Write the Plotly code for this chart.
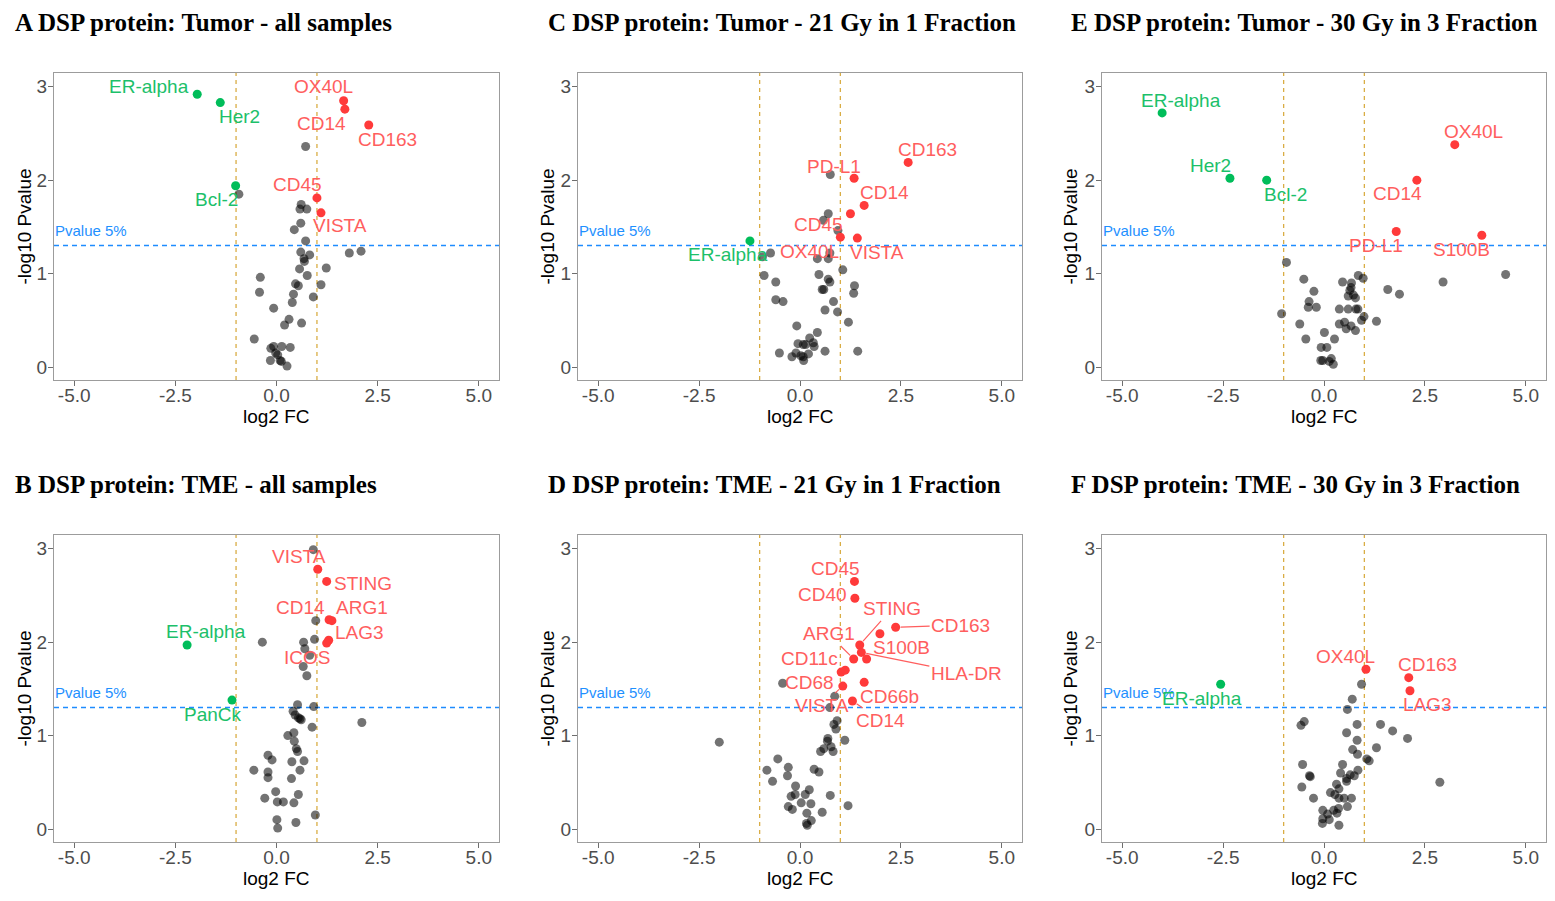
import plotly.graph_objects as go
from plotly.subplots import make_subplots

# ---- data: log2 FC (x) and -log10 Pvalue (y) ----

# A: Tumor - all samples
a_grey_x = [0.72, -0.93, 0.61, 0.58, 0.75, 0.60, 0.44, 0.72, 0.60, 0.82, 0.68, 0.69, 1.80, 2.09,
            1.23, 0.57, 0.76, -0.40, -0.42, 0.47, 0.54, 1.10, 0.42, 0.91, 0.39, -0.07, 0.31, 0.20,
            0.62, -0.55, -0.07, -0.14, 0.13, 0.34, -0.02, 0.03, -0.15, 0.09, 0.12, 0.26]
a_grey_y = [2.36, 1.85, 1.74, 1.69, 1.69, 1.54, 1.47, 1.35, 1.23, 1.20, 1.16, 1.13, 1.22, 1.24,
            1.06, 1.05, 0.98, 0.96, 0.80, 0.89, 0.87, 0.88, 0.78, 0.75, 0.69, 0.63, 0.51, 0.45,
            0.47, 0.30, 0.22, 0.20, 0.22, 0.21, 0.15, 0.13, 0.07, 0.07, 0.06, 0.01]
a_down_names = ["ER-alpha", "Her2", "Bcl-2"]
a_down_x = [-1.96, -1.39, -1.01]
a_down_y = [2.92, 2.83, 1.94]
a_up_names = ["OX40L", "CD14", "CD163", "CD45", "VISTA"]
a_up_x = [1.66, 1.69, 2.28, 1.00, 1.10]
a_up_y = [2.85, 2.76, 2.59, 1.81, 1.65]

# C: Tumor - 21 Gy in 1 Fraction
c_grey_x = [0.75, 0.70, 0.58, 0.94, -0.73, -0.93, 0.43, 0.70, 0.74, 1.06, 0.47, -0.89, 0.70, 0.74,
            -0.60, 1.35, 1.33, 0.55, 0.59, -0.60, -0.42, 0.83, 0.62, 0.93, 1.20, -0.08, 0.43, 0.24,
            -0.05, 0.08, 0.14, 0.33, 0.35, -0.51, 0.62, 1.43, -0.10, 0.21, -0.20, 0.02, 0.08, 0.09]
c_grey_y = [2.06, 1.64, 1.57, 1.46, 1.22, 1.18, 1.16, 1.16, 1.22, 1.04, 0.99, 0.98, 0.94, 0.91,
            0.91, 0.87, 0.79, 0.83, 0.83, 0.72, 0.70, 0.70, 0.61, 0.59, 0.48, 0.44, 0.37, 0.31,
            0.25, 0.24, 0.24, 0.26, 0.22, 0.15, 0.17, 0.17, 0.15, 0.14, 0.11, 0.12, 0.11, 0.07]
c_down_names = ["ER-alpha"]
c_down_x = [-1.24]
c_down_y = [1.35]
c_up_names = ["CD163", "PD-L1", "CD14", "CD45", "OX40L", "VISTA"]
c_up_x = [2.68, 1.34, 1.59, 1.25, 1.00, 1.42]
c_up_y = [2.19, 2.02, 1.73, 1.64, 1.39, 1.38]

# E: Tumor - 30 Gy in 3 Fraction
e_grey_x = [-0.93, 4.50, 2.95, -0.50, 0.46, 0.85, 0.97, 0.68, 0.67, 0.64, 1.58, 1.87, -0.25, -0.37,
            -0.39, -0.19, 0.60, 0.73, 0.78, 0.38, 0.60, 0.79, 0.84, -1.05, 0.99, 0.93, 1.30, -0.60,
            0.51, 0.38, 0.67, 0.55, 0.78, 0.01, -0.45, 0.26, -0.07, 0.07, -0.08, -0.03, 0.13, 0.18,
            0.23]
e_grey_y = [1.12, 0.99, 0.91, 0.94, 0.91, 0.98, 0.95, 0.90, 0.85, 0.82, 0.83, 0.78, 0.81, 0.70,
            0.64, 0.64, 0.76, 0.77, 0.74, 0.62, 0.62, 0.62, 0.62, 0.57, 0.54, 0.50, 0.49, 0.46,
            0.48, 0.46, 0.44, 0.41, 0.39, 0.37, 0.30, 0.30, 0.21, 0.21, 0.07, 0.07, 0.06, 0.09,
            0.03]
e_down_names = ["ER-alpha", "Her2", "Bcl-2"]
e_down_x = [-4.01, -2.33, -1.42]
e_down_y = [2.72, 2.02, 2.00]
e_up_names = ["OX40L", "CD14", "PD-L1", "S100B"]
e_up_x = [3.24, 2.30, 1.79, 3.91]
e_up_y = [2.38, 2.00, 1.45, 1.41]

# B: TME - all samples
b_grey_x = [0.91, 0.97, 0.94, -0.35, 0.67, 0.70, 0.82, 0.66, 0.75, 0.52, 0.92, 0.41, 0.46, 0.54,
            0.58, 0.61, 2.11, 0.88, 0.43, 0.28, 0.44, 0.49, 0.52, -0.21, -0.11, 0.38, 0.68, -0.56,
            -0.21, -0.21, 0.58, 0.37, -0.02, -0.29, 0.02, 0.17, 0.43, 0.54, 0.96, 0.01, 0.48, 0.03]
b_grey_y = [2.99, 2.23, 2.03, 2.00, 2.00, 1.93, 1.86, 1.74, 1.64, 1.33, 1.31, 1.26, 1.22, 1.19,
            1.18, 1.17, 1.14, 1.09, 1.03, 1.00, 0.94, 0.86, 0.83, 0.79, 0.74, 0.72, 0.73, 0.63,
            0.61, 0.55, 0.63, 0.54, 0.40, 0.33, 0.29, 0.29, 0.28, 0.37, 0.15, 0.10, 0.07, 0.01]
b_down_names = ["ER-alpha", "PanCk"]
b_down_x = [-2.21, -1.10]
b_down_y = [1.97, 1.38]
b_up_names = ["VISTA", "STING", "CD14", "ARG1", "LAG3", "ICOS"]
b_up_x = [1.02, 1.24, 1.30, 1.37, 1.29, 1.24]
b_up_y = [2.78, 2.65, 2.24, 2.23, 2.02, 1.99]

# D: TME - 21 Gy in 1 Fraction
d_grey_x = [-0.43, 0.86, 0.74, 0.92, 0.84, 0.89, -2.00, 1.11, 0.69, 0.68, 0.77, 0.59, 0.51, 0.82,
            -0.55, -0.82, -0.29, -0.31, -0.68, 0.35, 0.47, -0.11, 0.23, 0.13, -0.12, -0.22, 0.75,
            0.03, 0.27, -0.29, -0.19, 1.19, 0.17, 0.55, 0.28, 0.16, 0.18]
d_grey_y = [1.56, 1.42, 1.30, 1.16, 1.12, 1.07, 0.93, 0.95, 0.97, 0.94, 0.88, 0.86, 0.83, 0.83,
            0.75, 0.63, 0.66, 0.57, 0.51, 0.64, 0.61, 0.46, 0.42, 0.37, 0.37, 0.35, 0.36,
            0.28, 0.27, 0.24, 0.21, 0.25, 0.17, 0.18, 0.09, 0.06, 0.04]
d_down_names = []
d_down_x = []
d_down_y = []
d_up_names = ["CD45", "CD40", "STING", "CD163", "ARG1", "S100B", "CD11c", "CD68", "HLA-DR",
              "CD66b", "VISTA", "CD14", ""]
d_up_x = [1.35, 1.36, 1.48, 2.37, 1.33, 1.98, 1.02, 1.12, 1.52, 1.59, 1.06, 1.30, 1.65]
d_up_y = [2.65, 2.47, 1.97, 2.16, 1.82, 2.09, 1.68, 1.70, 1.89, 1.57, 1.53, 1.37, 1.82]

# F: TME - 30 Gy in 3 Fraction
f_grey_x = [0.93, 0.70, 0.58, -0.49, -0.57, 0.82, 1.40, 1.70, 0.56, 2.07, 0.82, 1.30, 0.71, 0.83,
            1.06, 1.12, 0.46, -0.53, 0.41, 0.84, 0.65, 0.75, -0.36, -0.34, 0.56, 0.56, 2.87, -0.55,
            0.31, 0.37, 0.16, 0.27, 0.37, 0.50, 0.68, -0.26, 0.58, -0.03, 0.09, 0.24, 0.36, 0.32,
            0.13, -0.03, -0.04, 0.37]
f_grey_y = [1.55, 1.39, 1.28, 1.15, 1.11, 1.12, 1.12, 1.05, 1.03, 0.97, 0.95, 0.87, 0.85, 0.80,
            0.75, 0.73, 0.69, 0.69, 0.60, 0.63, 0.58, 0.57, 0.57, 0.56, 0.54, 0.51, 0.50, 0.45,
            0.48, 0.43, 0.39, 0.37, 0.33, 0.33, 0.33, 0.33, 0.24, 0.20, 0.16, 0.20, 0.22, 0.17,
            0.10, 0.11, 0.06, 0.04]
f_down_names = ["ER-alpha"]
f_down_x = [-2.56]
f_down_y = [1.55]
f_up_names = ["OX40L", "CD163", "LAG3"]
f_up_x = [1.04, 2.10, 2.13]
f_up_y = [1.71, 1.62, 1.48]

panel_titles = {
    "A": "A DSP protein: Tumor - all samples",
    "B": "B DSP protein: TME - all samples",
    "C": "C DSP protein: Tumor - 21 Gy in 1 Fraction",
    "D": "D DSP protein: TME - 21 Gy in 1 Fraction",
    "E": "E DSP protein: Tumor - 30 Gy in 3 Fraction",
    "F": "F DSP protein: TME - 30 Gy in 3 Fraction",
}

x_ticks = [-5.0, -2.5, 0.0, 2.5, 5.0]
y_ticks = [0, 1, 2, 3]
fc_cut = 1.0
p_cut = 1.30103  # -log10(0.05)

panels = {
    "A": (a_grey_x, a_grey_y, a_down_names, a_down_x, a_down_y, a_up_names, a_up_x, a_up_y),
    "C": (c_grey_x, c_grey_y, c_down_names, c_down_x, c_down_y, c_up_names, c_up_x, c_up_y),
    "E": (e_grey_x, e_grey_y, e_down_names, e_down_x, e_down_y, e_up_names, e_up_x, e_up_y),
    "B": (b_grey_x, b_grey_y, b_down_names, b_down_x, b_down_y, b_up_names, b_up_x, b_up_y),
    "D": (d_grey_x, d_grey_y, d_down_names, d_down_x, d_down_y, d_up_names, d_up_x, d_up_y),
    "F": (f_grey_x, f_grey_y, f_down_names, f_down_x, f_down_y, f_up_names, f_up_x, f_up_y),
}

# label placement (pixel offsets from the point, like ggrepel put them): dx, dy(up), segment
label_pos = {
    "A": {"ER-alpha": (-48, 8, 0), "Her2": (19, -14, 0), "Bcl-2": (-19, -14, 0),
          "OX40L": (-20, 14, 0), "CD14": (-23, -14, 0), "CD163": (19, -14, 0),
          "CD45": (-19, 13, 0), "VISTA": (19, -13, 0)},
    "C": {"CD163": (19, 13, 0), "PD-L1": (-20, 12, 0), "CD14": (20, 13, 0),
          "CD45": (-32, -11, 0), "OX40L": (-31, -14, 0), "VISTA": (20, -14, 0),
          "ER-alpha": (-22, -14, 0)},
    "E": {"ER-alpha": (19, 12, 0), "Her2": (-19, 13, 0), "Bcl-2": (19, -14, 0),
          "OX40L": (19, 13, 0), "CD14": (-19, -13, 0), "PD-L1": (-20, -14, 0),
          "S100B": (-20, -14, 0)},
    "B": {"VISTA": (-19, 13, 0), "STING": (36, -2, 0), "CD14": (-29, 12, 0),
          "ARG1": (30, 13, 0), "LAG3": (31, 8, 0), "ICOS": (-20, -14, 0),
          "ER-alpha": (19, 13, 0), "PanCk": (-19, -14, 0)},
    "D": {"CD45": (-19, 13, 0), "CD40": (-32, 4, 0), "STING": (32, 36, 1),
          "CD163": (65, 2, 1), "ARG1": (-25, 25, 1), "S100B": (22, -14, 0),
          "CD11c": (-32, 14, 0), "CD68": (-36, -12, 0), "HLA-DR": (105, -21, 1),
          "CD66b": (25, -14, 0), "VISTA": (-21, -19, 1), "CD14": (28, -19, 1)},
    "F": {"ER-alpha": (-19, -14, 0), "OX40L": (-20, 13, 0), "CD163": (19, 13, 0),
          "LAG3": (18, -14, 0)},
}

# layout in page pixels (1555x901 window); the page body adds an 8px margin round the figure
W, H = 1555, 901
PAD = 8
FW, FH = W - 2 * PAD, H - 2 * PAD


def px_x(p):
    return (p - PAD) / FW


def px_y(p):
    return 1 - (p - PAD) / FH


col_px = {0: (54, 499), 1: (578, 1022), 2: (1102, 1546)}
row_px = {0: (73, 380), 1: (535, 842)}
title_x_px = {0: 13, 1: 546, 2: 1069}
title_y_px = {0: 22, 1: 484}
ytitle_x_px = {0: 24, 1: 547, 2: 1070}
xtitle_dy = 36  # centre of "log2 FC" below the frame

order = [("A", 0, 0), ("C", 0, 1), ("E", 0, 2), ("B", 1, 0), ("D", 1, 1), ("F", 1, 2)]

red_pt, red_txt = "#FF3A3A", "#FF5E5E"
green_pt, green_txt = "#00BD5A", "#1CC06A"
label_font = "Liberation Sans"

fig = make_subplots(rows=2, cols=3)
annotations = []
shapes = []

for key, r, c in order:
    gx, gy, dn, dx_, dy_, un, ux, uy = panels[key]
    row, col = r + 1, c + 1
    fig.add_trace(go.Scatter(x=gx, y=gy, mode="markers",
                             marker=dict(color="black", size=9, opacity=0.55, line=dict(width=0)),
                             hoverinfo="x+y", showlegend=False), row=row, col=col)
    fig.add_trace(go.Scatter(x=dx_, y=dy_, mode="markers", text=dn,
                             marker=dict(color=green_pt, size=9, line=dict(width=0)),
                             showlegend=False), row=row, col=col)
    fig.add_trace(go.Scatter(x=ux, y=uy, mode="markers", text=un,
                             marker=dict(color=red_pt, size=9, line=dict(width=0)),
                             showlegend=False), row=row, col=col)

    idx = r * 3 + c + 1
    xa = "x" if idx == 1 else f"x{idx}"
    ya = "y" if idx == 1 else f"y{idx}"

    # threshold lines
    for xv in (-fc_cut, fc_cut):
        shapes.append(dict(type="line", xref=xa, yref=f"{ya} domain", x0=xv, x1=xv, y0=0, y1=1,
                           line=dict(color="#D9AD45", width=1.3, dash="4px,4px"), layer="below"))
    shapes.append(dict(type="line", xref=f"{xa} domain", yref=ya, x0=0, x1=1, y0=p_cut, y1=p_cut,
                       line=dict(color="#1E8CFF", width=1.5, dash="5px,4px"), layer="below"))
    annotations.append(dict(xref=xa, yref=ya, x=-5.5, y=p_cut, text="Pvalue 5%", showarrow=False,
                            xanchor="left", yanchor="bottom", yshift=4, xshift=-1,
                            font=dict(family=label_font, size=15, color="#1E90FF")))

    # gene labels
    for names, xs, ys, col_txt in ((dn, dx_, dy_, green_txt), (un, ux, uy, red_txt)):
        for nm, xv, yv in zip(names, xs, ys):
            if not nm:
                continue
            ox, oy, seg = label_pos[key][nm]
            a = dict(xref=xa, yref=ya, x=xv, y=yv, text=nm,
                     font=dict(family=label_font, size=19, color=col_txt))
            if seg:
                a.update(showarrow=True, ax=ox, ay=-oy, arrowhead=0, arrowwidth=1.2,
                         arrowcolor=col_txt, standoff=5)
            else:
                a.update(showarrow=False, xshift=ox, yshift=oy)
            annotations.append(a)

    x0, x1 = col_px[c]
    y0, y1 = row_px[r]

    # panel title and axis titles
    annotations.append(dict(xref="paper", yref="paper", x=px_x(title_x_px[c]), y=px_y(title_y_px[r]),
                            xanchor="left", yanchor="middle", showarrow=False,
                            text="<b>" + panel_titles[key] + "</b>",
                            font=dict(family="Liberation Serif", size=25, color="black")))
    annotations.append(dict(xref="paper", yref="paper", x=px_x((x0 + x1) / 2), y=px_y(y1 + xtitle_dy),
                            xanchor="center", yanchor="middle", showarrow=False, text="log2 FC",
                            font=dict(family=label_font, size=19, color="black")))
    annotations.append(dict(xref="paper", yref="paper", x=px_x(ytitle_x_px[c]), y=px_y((y0 + y1) / 2),
                            xanchor="center", yanchor="middle", showarrow=False, textangle=-90,
                            text="-log10 Pvalue",
                            font=dict(family=label_font, size=19, color="black")))

    fig.update_xaxes(domain=[px_x(x0), px_x(x1)], range=[-5.5, 5.5], tickvals=x_ticks,
                     ticktext=[f"{v:.1f}" for v in x_ticks], row=row, col=col)
    fig.update_yaxes(domain=[px_y(y1), px_y(y0)], range=[-0.139, 3.147], tickvals=y_ticks,
                     row=row, col=col)

axis_style = dict(showgrid=False, zeroline=False, showline=True, mirror=True, linecolor="#9C9C9C",
                  linewidth=1.2, ticks="outside", ticklen=5, tickcolor="#6E6E6E", tickwidth=1.2,
                  tickfont=dict(family=label_font, size=19, color="#4D4D4D"))
fig.update_xaxes(ticklabelstandoff=-7, **axis_style)
fig.update_yaxes(ticklabelstandoff=-3, **axis_style)

fig.update_layout(width=FW, height=FH, margin=dict(l=0, r=0, t=0, b=0),
                  paper_bgcolor="white", plot_bgcolor="white",
                  annotations=annotations, shapes=shapes, showlegend=False)

fig.write_html("out.html")
